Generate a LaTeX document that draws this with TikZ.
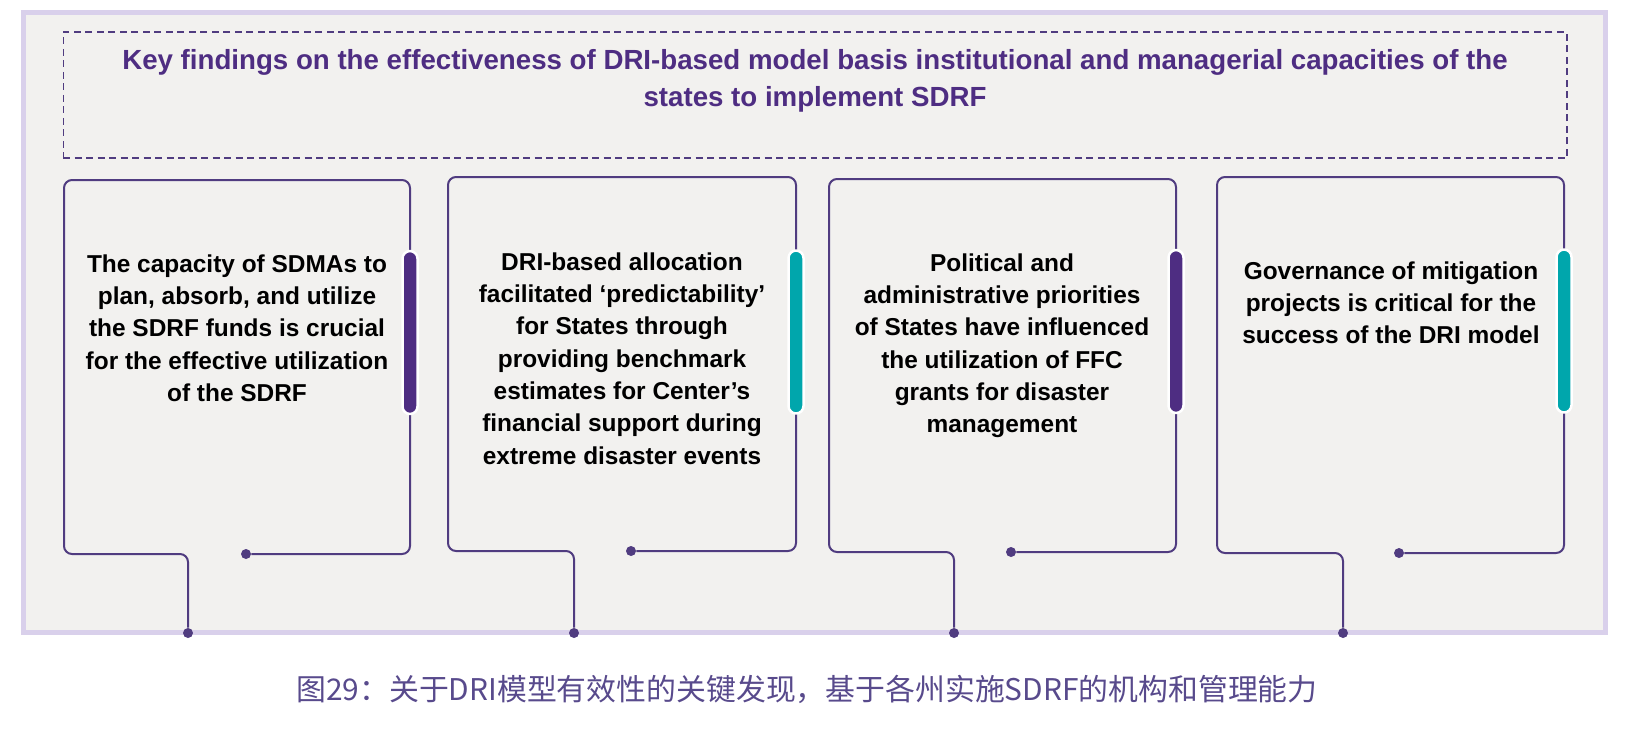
\documentclass[tikz,border=0pt]{standalone}
\usepackage{fontspec}
\setmainfont{Liberation Sans}
\newfontfamily\cjk{Noto Sans CJK SC}
\definecolor{dripurple}{RGB}{78,45,130}
\definecolor{driline}{RGB}{80,60,128}
\definecolor{driteal}{RGB}{0,166,172}
\definecolor{drilav}{RGB}{217,208,235}
\definecolor{dribg}{RGB}{242,241,239}
\definecolor{dricap}{RGB}{88,74,140}
\begin{document}
\begin{tikzpicture}[
	x=0.02cm, y=-0.02cm,
	panelbg/.style   = {rectangle, draw=drilav, line width=0.1cm, fill=dribg,
		minimum width=31.65cm, minimum height=12.42cm, inner sep=0},
	headbox/.style   = {rectangle, draw=driline, line width=0.026cm, dash pattern=on 0.14cm off 0.09cm,
		minimum width=30.08cm, minimum height=2.52cm, inner sep=0},
	title/.style     = {align=center, inner sep=0, text=dripurple, font=\fontsize{15.75pt}{20.8pt}\selectfont\bfseries},
	finding/.style   = {align=center, inner sep=0, anchor=north, font=\fontsize{13.9pt}{18.4pt}\selectfont\bfseries},
	cardline/.style  = {draw=driline, line width=0.04cm, rounded corners=0.16cm},
	sidebar/.style   = {rectangle, draw=white, line width=0.05cm, rounded corners=0.15cm,
		minimum width=0.3cm, minimum height=3.26cm, inner sep=0},
	purplebar/.style = {fill=dripurple},
	tealbar/.style   = {fill=driteal},
	enddot/.style    = {circle, fill=driline, minimum size=0.2cm, inner sep=0},
	figcaption/.style = {text=dricap, font=\cjk\fontsize{17pt}{20pt}\selectfont}
	]
	\useasboundingbox (0,0) rectangle (1638,745);
	
	% ===================== Panel and heading =====================
	\node[panelbg] (panel) at (814.25,322.5) {};
	\node[headbox] (head) at (815,95) {};
	\node[title] (headtext) at (815,81) {Key findings on the effectiveness of DRI-based model basis institutional and managerial capacities of the\\ states to implement SDRF};
	
	% ===================== Card 1: SDMA capacity =====================
	\node[enddot] (d1a) at (246,554) {};
	\node[enddot] (d1b) at (188,633) {};
	\draw[cardline] (d1a) -- (410,554) -- (410,180) -- (64,180) -- (64,554) -- (188,554) -- (d1b);
	\node[sidebar, purplebar] (bar1) at (410,332.5) {};
	\node[finding] (f1) at (237,254) {The capacity of SDMAs to\\ plan, absorb, and utilize\\ the SDRF funds is crucial\\ for the effective utilization\\ of the SDRF};
	
	% ===================== Card 2: predictability =====================
	\node[enddot] (d2a) at (631,551) {};
	\node[enddot] (d2b) at (574,633) {};
	\draw[cardline] (d2a) -- (796,551) -- (796,177) -- (448,177) -- (448,551) -- (574,551) -- (d2b);
	\node[sidebar, tealbar] (bar2) at (796,332) {};
	\node[finding] (f2) at (622,252) {DRI-based allocation\\ facilitated ‘predictability’\\ for States through\\ providing benchmark\\ estimates for Center’s\\ financial support during\\ extreme disaster events};
	
	% ===================== Card 3: priorities =====================
	\node[enddot] (d3a) at (1011,552) {};
	\node[enddot] (d3b) at (954,633) {};
	\draw[cardline] (d3a) -- (1176,552) -- (1176,179) -- (829,179) -- (829,552) -- (954,552) -- (d3b);
	\node[sidebar, purplebar] (bar3) at (1176,331.5) {};
	\node[finding] (f3) at (1002,253) {Political and\\ administrative priorities\\ of States have influenced\\ the utilization of FFC\\ grants for disaster\\ management};
	
	% ===================== Card 4: governance =====================
	\node[enddot] (d4a) at (1399,553) {};
	\node[enddot] (d4b) at (1343,633) {};
	\draw[cardline] (d4a) -- (1564,553) -- (1564,177) -- (1217,177) -- (1217,553) -- (1343,553) -- (d4b);
	\node[sidebar, tealbar] (bar4) at (1564,331) {};
	\node[finding] (f4) at (1391,261) {Governance of mitigation\\ projects is critical for the\\ success of the DRI model};
	
	% ===================== Caption =====================
	\node[figcaption] (cap) at (807,689) {图29：关于DRI模型有效性的关键发现，基于各州实施SDRF的机构和管理能力};
	
\end{tikzpicture}
\end{document}
